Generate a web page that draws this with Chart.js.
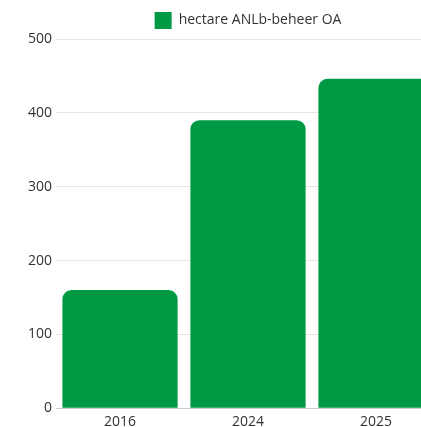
<!DOCTYPE html>
<html lang="nl">
<head>
    <meta charset="UTF-8">
    <title>ANLb-beheer</title>
    <script src="https://cdn.jsdelivr.net/npm/chart.js"></script>
    <style>
        html, body {
            margin: 0;
            padding: 0;
            background: #fff;
            overflow: hidden;
        }
        .wrap {
            width: 490px;
            height: 435px;
        }
    </style>
</head>
<body>
    <div class="wrap"><canvas id="barChart"></canvas></div>
    <script>
        const years = ['2016', '2024', '2025'];
        const hectares = [160, 390, 446];
        const yTicks = [0, 100, 200, 300, 400, 500];

        const ctx = document.getElementById('barChart').getContext('2d');
        new Chart(ctx, {
            type: 'bar',
            data: {
                labels: years,
                datasets: [{
                    label: 'hectare ANLb-beheer OA',
                    data: hectares,
                    backgroundColor: '#009a44',
                    borderRadius: { topLeft: 9, topRight: 9 },
                    borderSkipped: false,
                    barPercentage: 0.9,
                    categoryPercentage: 1
                }]
            },
            options: {
                responsive: true,
                maintainAspectRatio: false,
                animation: false,
                layout: { padding: { top: 0, right: 50, bottom: 0, left: 24 } },
                plugins: {
                    legend: {
                        fullSize: false,
                        labels: {
                            boxWidth: 17,
                            boxHeight: 17,
                            padding: 12,
                            color: '#333',
                            font: { family: 'Open Sans', size: 14 }
                        }
                    },
                    tooltip: { enabled: false }
                },
                scales: {
                    x: {
                        grid: { display: false, drawTicks: false },
                        border: { color: '#ccc' },
                        ticks: { color: '#333', font: { family: 'Open Sans', size: 14 }, padding: 5 }
                    },
                    y: {
                        min: yTicks[0],
                        max: yTicks[yTicks.length - 1],
                        afterBuildTicks: axis => { axis.ticks = yTicks.map(v => ({ value: v })); },
                        grid: { color: '#e6e6e6', drawTicks: false },
                        border: { display: false },
                        ticks: { color: '#333', font: { family: 'Open Sans', size: 14 }, padding: 4 }
                    }
                }
            }
        });
    </script>
</body>
</html>
